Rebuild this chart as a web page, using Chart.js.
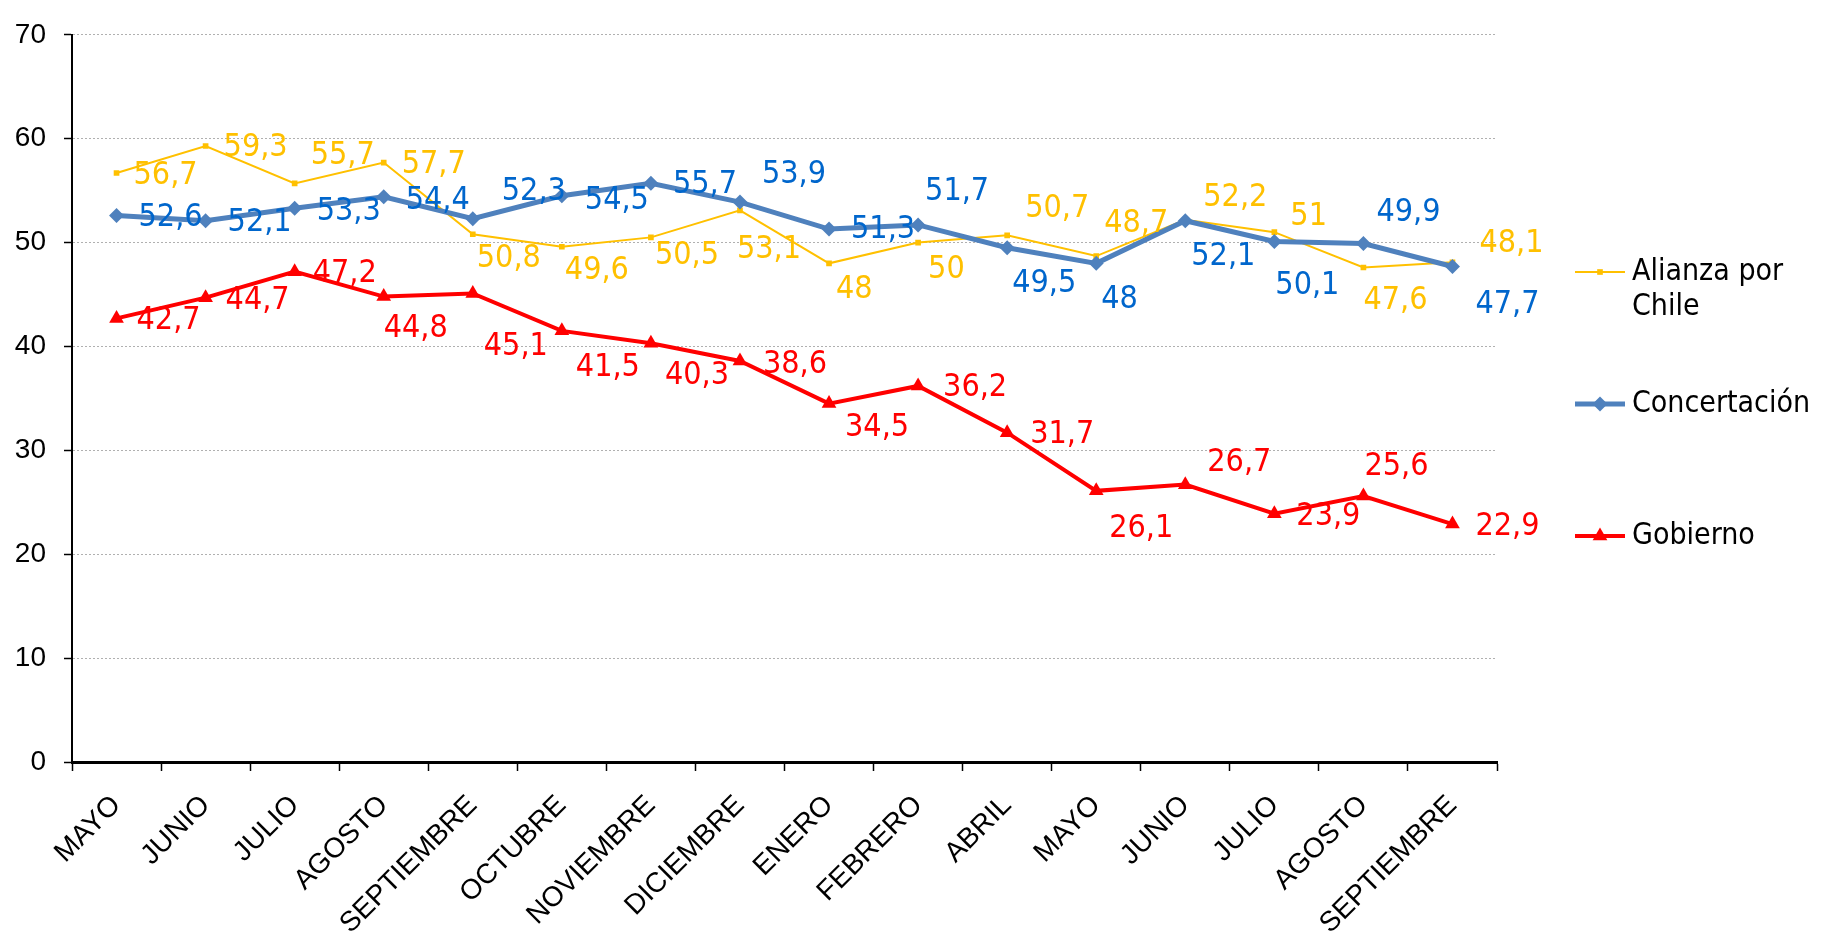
<!DOCTYPE html>
<html>
<head>
<meta charset="utf-8">
<script src="https://cdn.jsdelivr.net/npm/chart.js@4.4.1/dist/chart.umd.min.js"></script>
<style>
	body { margin: 0; background: #fff; }
</style>
</head>
<body>
<canvas id="encuestaChart" width="1829" height="937"></canvas>
<script>
// months of the survey
const months = ["MAYO", "JUNIO", "JULIO", "AGOSTO", "SEPTIEMBRE", "OCTUBRE", "NOVIEMBRE", "DICIEMBRE",
	"ENERO", "FEBRERO", "ABRIL", "MAYO", "JUNIO", "JULIO", "AGOSTO", "SEPTIEMBRE"];

// series values
const alianza = [56.7, 59.3, 55.7, 57.7, 50.8, 49.6, 50.5, 53.1, 48, 50, 50.7, 48.7, 52.2, 51, 47.6, 48.1];
const concertacion = [52.6, 52.1, 53.3, 54.4, 52.3, 54.5, 55.7, 53.9, 51.3, 51.7, 49.5, 48, 52.1, 50.1, 49.9, 47.7];
const gobierno = [42.7, 44.7, 47.2, 44.8, 45.1, 41.5, 40.3, 38.6, 34.5, 36.2, 31.7, 26.1, 26.7, 23.9, 25.6, 22.9];

// y axis tick labels
const yTicks = [0, 10, 20, 30, 40, 50, 60, 70];

// where each value label sits, [dx, dy] in px from its point
const alianzaLabelPos = [[17, 3], [18, 2], [16, -28], [18, 2], [4, 24], [3, 24], [4, 18], [-3, 39],
	[7, 26], [10, 27], [18, -27], [8, -32], [18, -22], [16, -15], [0, 33], [27, -19]];
const concertacionLabelPos = [[22, 2], [22, 2], [22, 3], [22, 4], [29, -27], [23, 5], [22, 1], [22, -27],
	[22, 1], [7, -33], [5, 36], [5, 36], [6, 36], [1, 44], [13, -31], [23, 38]];
const gobiernoLabelPos = [[20, 2], [20, 3], [18, 2], [0, 32], [11, 53], [14, 37], [14, 32], [23, 4],
	[16, 24], [25, 2], [23, 2], [13, 38], [22, -22], [22, 3], [1, -29], [23, 3]];

//draws the value of every point next to it, decimal comma
const valueLabels = {
	id: 'valueLabels',
	afterDatasetsDraw(chart) {
		const ctx = chart.ctx;
		ctx.save();
		ctx.font = '32px "DejaVu Sans Condensed"';
		ctx.textAlign = 'left';
		ctx.textBaseline = 'middle';
		chart.data.datasets.forEach((ds, i) => {
			const meta = chart.getDatasetMeta(i);
			ctx.fillStyle = ds.labelColor;
			meta.data.forEach((pt, j) => {
				const off = ds.labelPos[j];
				ctx.fillText(String(ds.data[j]).replace('.', ','), pt.x + off[0], pt.y + off[1]);
			});
		});
		ctx.restore();
	}
};

//legend on the right side, one row per series
const sideLegend = {
	id: 'sideLegend',
	afterDraw(chart, args, opts) {
		const ctx = chart.ctx;
		ctx.save();
		ctx.font = '30px "DejaVu Sans Condensed"';
		ctx.textAlign = 'left';
		ctx.textBaseline = 'middle';
		chart.data.datasets.forEach((ds, i) => {
			const y = opts.rows[i];
			ctx.strokeStyle = ds.borderColor;
			ctx.lineWidth = ds.borderWidth;
			ctx.beginPath();
			ctx.moveTo(opts.x, y);
			ctx.lineTo(opts.x + 50, y);
			ctx.stroke();
			ctx.fillStyle = ds.pointBackgroundColor;
			Chart.helpers.drawPoint(ctx, { pointStyle: ds.pointStyle, radius: ds.pointRadius, rotation: 0, borderWidth: 0 }, opts.x + 25, y);
			ctx.fillStyle = '#000000';
			ds.label.split('\n').forEach((t, k) => {
				ctx.fillText(t, opts.x + 57, y + k * 35);
			});
		});
		ctx.restore();
	}
};

const ctx = document.getElementById('encuestaChart').getContext('2d');

new Chart(ctx, {
	type: 'line',
	data: {
		labels: months,
		datasets: [
			{
				label: 'Alianza por\nChile',
				data: alianza,
				labelPos: alianzaLabelPos,
				labelColor: '#FFC000',
				borderColor: '#FFC000',
				borderWidth: 2,
				pointStyle: 'rect',
				pointRadius: 4,
				pointBackgroundColor: '#FFC000',
				pointBorderColor: '#FFC000',
				pointBorderWidth: 0,
				tension: 0,
				order: 3,
			},
			{
				label: 'Concertación',
				data: concertacion,
				labelPos: concertacionLabelPos,
				labelColor: '#0066CC',
				borderColor: '#4F81BD',
				borderWidth: 5,
				pointStyle: 'rectRot',
				pointRadius: 7.5,
				pointBackgroundColor: '#4F81BD',
				pointBorderColor: '#4F81BD',
				pointBorderWidth: 0,
				tension: 0,
				order: 2,
			},
			{
				label: 'Gobierno',
				data: gobierno,
				labelPos: gobiernoLabelPos,
				labelColor: '#FF0000',
				borderColor: '#FF0000',
				borderWidth: 4,
				pointStyle: 'triangle',
				pointRadius: 8.5,
				pointBackgroundColor: '#FF0000',
				pointBorderColor: '#FF0000',
				pointBorderWidth: 0,
				tension: 0,
				order: 1,
			},
		],
	},
	options: {
		responsive: false,
		animation: false,
		layout: {
			padding: { top: 20, right: 332, left: 0, bottom: 0 },
		},
		plugins: {
			legend: { display: false },
			tooltip: { enabled: false },
			sideLegend: { x: 1575, rows: [272, 404, 536] },
		},
		scales: {
			x: {
				offset: true,
				grid: {
					offset: true,
					drawOnChartArea: false,
					tickLength: 9,
					tickColor: '#000000',
					tickWidth: 1.5,
				},
				border: { color: '#000000', width: 3 },
				ticks: {
					color: '#000000',
					font: { family: 'Liberation Sans', size: 28 },
					minRotation: 45,
					maxRotation: 45,
					autoSkip: false,
					padding: 18,
				},
				afterFit(scale) {
					scale.height = 175;
				},
			},
			y: {
				min: 0,
				max: 70,
				afterBuildTicks(scale) {
					scale.ticks = yTicks.map((v) => ({ value: v }));
				},
				grid: {
					color: '#b0b0b0',
					lineWidth: 1,
					tickColor: '#000000',
					tickLength: 8,
					tickWidth: 1.5,
				},
				border: { color: '#000000', width: 2, dash: [2, 2] },
				ticks: {
					color: '#000000',
					font: { family: 'Liberation Sans', size: 28 },
					padding: 18,
				},
				afterFit(scale) {
					scale.width = 72;
				},
			},
		},
	},
	plugins: [valueLabels, sideLegend],
});
</script>
</body>
</html>
